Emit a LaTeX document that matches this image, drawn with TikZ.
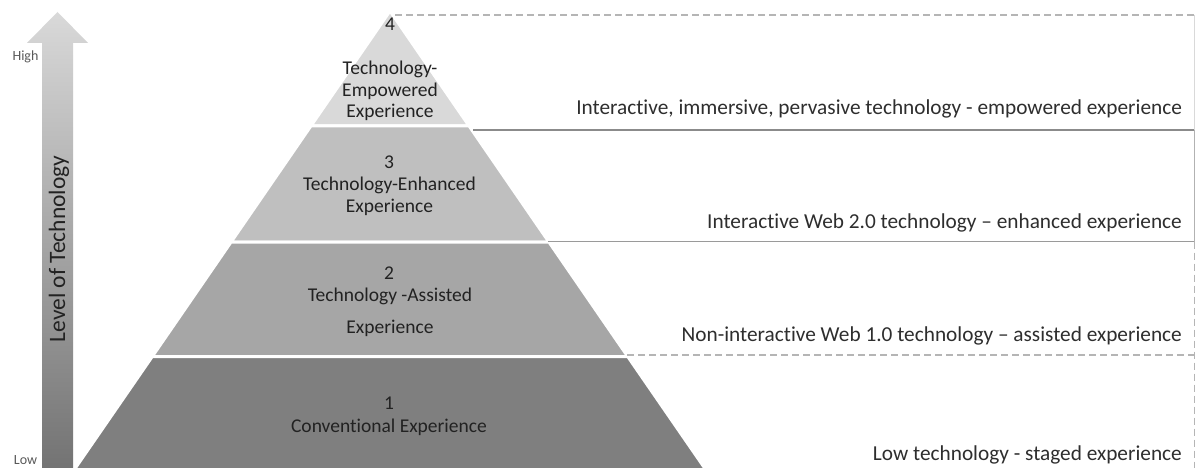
\documentclass[tikz,border=0pt]{standalone}
\usepackage{fontspec}
\setmainfont{Carlito}[Ligatures=NoCommon,RawFeature=-liga]
\definecolor{lvA}{HTML}{D9D9D9}
\definecolor{lvB}{HTML}{BFBFBF}
\definecolor{lvC}{HTML}{A6A6A6}
\definecolor{lvD}{HTML}{7F7F7F}
\definecolor{txt}{HTML}{222222}
\definecolor{rtxt}{HTML}{2E2E2E}
\definecolor{dashc}{HTML}{B5B5B5}
\definecolor{solc}{HTML}{9A9A9A}
\begin{document}
\begin{tikzpicture}[x=1pt,y=-1pt,
  level/.style={draw=white,line width=3pt,line join=miter},
  pyrtext/.style={anchor=base,inner sep=0pt,text=txt,font=\fontsize{19.5}{23}\selectfont},
  sidetext/.style={anchor=base east,inner sep=0pt,text=rtxt,font=\fontsize{21.3}{25}\selectfont},
  dashline/.style={draw=dashc,line width=1.4pt,dash pattern=on 7pt off 4pt},
  solidline/.style={draw=solc,line width=1.6pt},
  smalltext/.style={anchor=base,inner sep=0pt,text=black!65,font=\fontsize{14}{16}\selectfont}]
\useasboundingbox (0,0) rectangle (1195,468);
\clip (0,0) rectangle (1195,468);
\fill[white] (0,0) rectangle (1195,468);

% vertical arrow
\shade[top color=lvA, bottom color=lvD!90!black]
  (42,472) -- (42,43) -- (27,43) -- (57.5,12) -- (88,43) -- (73,43) -- (73,472) -- cycle;
\node[anchor=center,rotate=90,inner sep=0pt,text=txt,font=\fontsize{23.5}{26}\selectfont] (axis) at (59,249) {Level of Technology};
\node[smalltext] (high) at (25.5,61) {High};
\node[smalltext] (low) at (25.5,464) {Low};

% pyramid levels
\filldraw[level,fill=lvA] (390,11) -- (469.1,126) -- (310.9,126) -- cycle;
\filldraw[level,fill=lvB] (310.9,126) -- (469.1,126) -- (548.9,242) -- (231.1,242) -- cycle;
\filldraw[level,fill=lvC] (231.1,242) -- (548.9,242) -- (627.7,356.5) -- (152.3,356.5) -- cycle;
\filldraw[level,fill=lvD] (152.3,356.5) -- (627.7,356.5) -- (717,486) -- (63,486) -- cycle;

% pyramid texts
\node[pyrtext] (n4) at (390,31) {4};
\node[pyrtext] (t4a) at (390,75) {Technology-};
\node[pyrtext] (t4b) at (390,97) {Empowered};
\node[pyrtext] (t4c) at (390,118) {Experience};
\node[pyrtext] (n3) at (389,168) {3};
\node[pyrtext] (t3a) at (389.5,190) {Technology-Enhanced};
\node[pyrtext] (t3b) at (389.5,213) {Experience};
\node[pyrtext] (n2) at (389,279) {2};
\node[pyrtext] (t2a) at (390,301) {Technology -Assisted};
\node[pyrtext] (t2b) at (390,333) {Experience};
\node[pyrtext] (n1) at (389,409) {1};
\node[pyrtext] (t1a) at (389,432) {Conventional Experience};

% right-hand guide lines
\coordinate (l4a) at (395,15);    \coordinate (l4b) at (1194,15);
\coordinate (l3a) at (473,130.5); \coordinate (l3b) at (1194,130.5);
\coordinate (l2a) at (548,241.5); \coordinate (l2b) at (1194,241.5);
\coordinate (l1a) at (627,355);   \coordinate (l1b) at (1194,355);
\coordinate (lbot) at (1194,470);
\draw[dashline] (l4a) -- (l4b);
\draw[solidline,draw=solc!90!black,line width=2pt] (l3a) -- (l3b);
\draw[solidline] (l2a) -- (l2b);
\draw[dashline] (l1a) -- (l1b);
\draw[draw=black!15,line width=1pt] (l4b) -- (l3b);
\draw[draw=black!30,line width=1pt] (l3b) -- (l2b);
\draw[dashline,line width=1pt] (l2b) -- (lbot);

% right-hand texts
\node[sidetext] (s4) at (1182,114.5) {Interactive, immersive, pervasive technology - empowered experience};
\node[sidetext] (s3) at (1182,228.5) {Interactive Web 2.0 technology -- enhanced experience};
\node[sidetext] (s2) at (1182,341.5) {Non-interactive Web 1.0 technology -- assisted experience};
\node[sidetext] (s1) at (1182,460.5) {Low technology - staged experience};
\end{tikzpicture}
\end{document}
